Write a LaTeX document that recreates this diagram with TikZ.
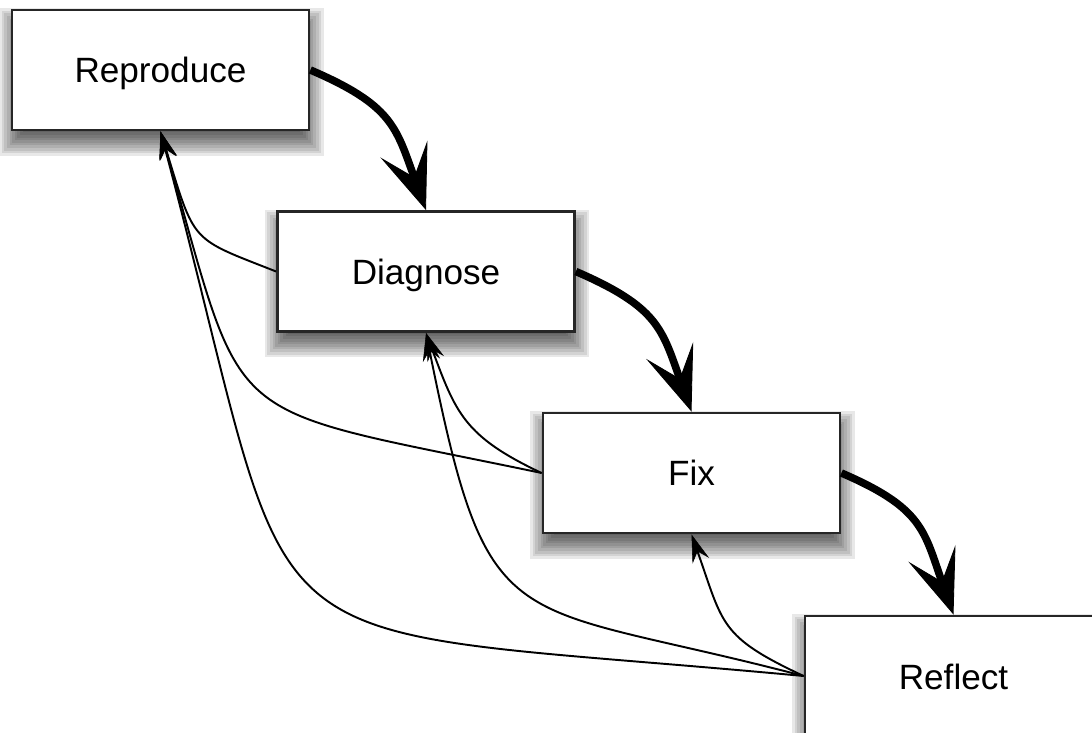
\documentclass[tikz,border=0pt]{standalone}
\usepackage{fontspec}
\newfontfamily\labfont{Liberation Sans}
\usetikzlibrary{arrows.meta,calc}
\pgfdeclarelayer{background}
\pgfsetlayers{background,main}
\tikzset{
  stepbox/.style={draw=black!85, line width=1.6pt, fill=white,
    minimum width=5.94cm, minimum height=2.4cm, inner sep=0pt,
    text height=0.52cm, text depth=0pt,
    font=\labfont\fontsize{20}{24}\selectfont},
  flow/.style={line width=4.3pt,
    -{Stealth[length=1.3cm,width=1.0cm,inset=0.6cm,line width=0.5pt]}},
  back/.style={line width=1.1pt,
    -{Stealth[length=0.56cm,width=0.35cm,inset=0.2cm,line width=0.3pt]}},
  shadowpiece/.style={fill=black, opacity=0.09, draw=none}
}
\begin{document}
\begin{tikzpicture}[x=0.02cm,y=-0.02cm]
\useasboundingbox (0,0) rectangle (1092,733);
\clip (0,0) rectangle (1092,733);
\node[stepbox] (rep) at (160.5,70) {Reproduce};
\node[stepbox] (dia) at (426,271.5) {Diagnose};
\node[stepbox] (fix) at (691.5,473) {Fix};
\node[stepbox] (ref) at (953.5,676) {Reflect};
\begin{pgfonlayer}{background}
\foreach \n in {rep,dia,fix,ref}{
  \foreach \k in {0,...,9}{
    \pgfmathsetmacro\ea{1-(-11+2.6*\k)}
    \pgfmathsetmacro\eb{12-(-11+2.6*\k)}
    \pgfmathsetmacro\ec{1+(-11+2.6*\k)}
    \pgfmathsetmacro\ed{12+(-11+2.6*\k)}
    \fill[shadowpiece] ($(\n.north west)+(\ea,\eb)$) rectangle ($(\n.south east)+(\ec,\ed)$);
  }
}
\end{pgfonlayer}
% main flow
\draw[flow] (rep.east) .. controls (392,105) and (396,127) .. (dia.north);
\draw[flow] (dia.east) .. controls (658,307) and (662,329) .. (fix.north);
\draw[flow] (fix.east) .. controls (923,508) and (924,531) .. (ref.north);
% feedback
\draw[back] (dia.west) .. controls (189.5,237.4) and (195.3,244.7) .. (rep.south);
\draw[back] (fix.west) .. controls (211,404) and (248,435) .. (rep.south);
\draw[back] (fix.west) .. controls (463.8,436.3) and (455.8,412.8) .. (dia.south);
\draw[back] (ref.west) .. controls (719.1,636.4) and (723.4,624.6) .. (fix.south);
\draw[back] (ref.west) .. controls (505.8,597.7) and (489.2,647.8) .. (dia.south);
\draw[back] (ref.west) .. controls (215.8,621) and (307.8,686.3) .. (rep.south);
\end{tikzpicture}
\end{document}
